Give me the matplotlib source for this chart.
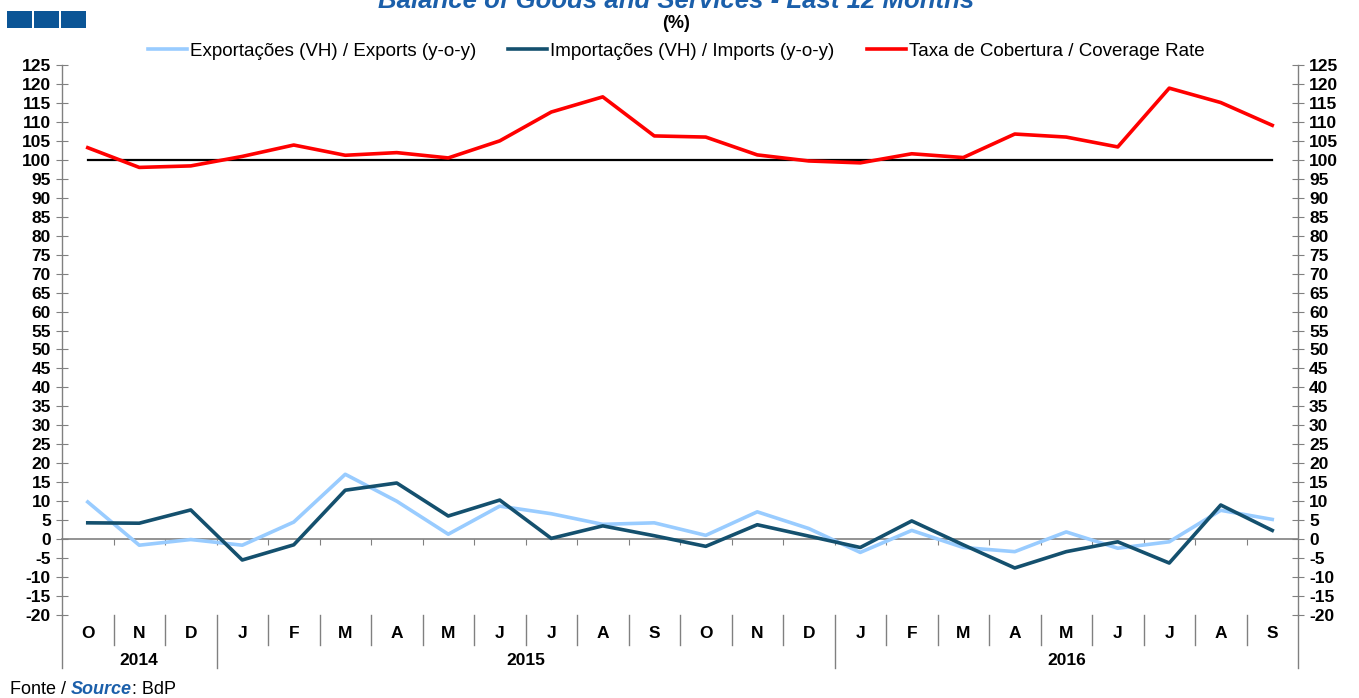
import matplotlib
matplotlib.use("Agg")
import matplotlib.pyplot as plt
from matplotlib.patches import Rectangle
import matplotlib.transforms as mtrans

months = ["O", "N", "D", "J", "F", "M", "A", "M", "J", "J", "A", "S",
          "O", "N", "D", "J", "F", "M", "A", "M", "J", "J", "A", "S"]
years = ["2014", "2015", "2016"]
year_centers = [1, 8.5, 19]
year_bounds = [2.5, 14.5]

exports = [9.8, -1.6, -0.1, -1.6, 4.5, 17.1, 10.0, 1.3, 8.7, 6.7, 3.9, 4.3,
           1.0, 7.2, 2.8, -3.5, 2.3, -2.2, -3.3, 1.9, -2.4, -0.7, 7.6, 5.2]
imports = [4.3, 4.2, 7.7, -5.5, -1.5, 12.9, 14.8, 6.1, 10.3, 0.2, 3.5, 0.9,
           -1.9, 3.8, 0.8, -2.2, 4.8, -1.5, -7.6, -3.3, -0.7, -6.3, 9.0, 2.3]
coverage = [103.2, 98.0, 98.4, 100.9, 103.9, 101.2, 101.9, 100.5, 105.0, 112.6, 116.6, 106.3,
            106.0, 101.3, 99.7, 99.2, 101.6, 100.6, 106.8, 106.0, 103.4, 118.9, 115.1, 109.1]
reference = [100] * 24

labels = ["Exportações (VH) / Exports (y-o-y)",
          "Importações (VH) / Imports (y-o-y)",
          "Taxa de Cobertura / Coverage Rate"]

plt.rcParams['font.family'] = ['Liberation Sans', 'DejaVu Sans']

W, H = 1359, 698
fig = plt.figure(figsize=(W / 100, H / 100), dpi=100)
ax = fig.add_axes([62 / W, 1 - 615 / H, (1298 - 62) / W, (615 - 65) / H])

x = list(range(len(months)))
c_exp, c_imp, c_cov = "#99CCFF", "#14506E", "#FF0000"
ax.plot(x, reference, color="black", lw=1.6, zorder=2)
l1, = ax.plot(x, exports, color=c_exp, lw=2.6, zorder=3, label=labels[0])
l2, = ax.plot(x, imports, color=c_imp, lw=2.6, zorder=4, label=labels[1])
l3, = ax.plot(x, coverage, color=c_cov, lw=2.6, zorder=5, label=labels[2])

ax.set_xlim(-0.5, 23.5)
ax.set_ylim(-20, 125)
ax.set_yticks(range(-20, 126, 5))
ax.set_yticklabels([str(v) for v in range(-20, 126, 5)])
ax.tick_params(axis='y', which='both', direction='inout', length=8, width=0.8,
               color="#808080", left=True, right=True, labelleft=True, labelright=True,
               labelsize=12.5, pad=4)
for t in ax.get_yticklabels():
    t.set_fontweight('bold')

ax.spines['top'].set_visible(False)
ax.spines['bottom'].set_position(('data', 0))
ax.spines['bottom'].set_color("#808080")
ax.spines['bottom'].set_linewidth(1.2)
for s in ['left', 'right']:
    ax.spines[s].set_color("#808080")
    ax.spines[s].set_linewidth(1.0)
ax.set_xticks([i + 0.5 for i in range(23)])
ax.set_xticklabels([])
ax.tick_params(axis='x', direction='out', length=4, width=0.8, color="#808080")

trans = mtrans.blended_transform_factory(ax.transData, ax.transAxes)
for i, m in enumerate(months):
    ax.text(i, -0.033, m, transform=trans, ha='center', va='center',
            fontsize=12.5, fontweight='bold')
for i in range(23):
    b = i + 0.5
    y0 = -0.096 if b in year_bounds else -0.055
    ax.plot([b, b], [0, y0], transform=trans, color="#808080", lw=1.0, clip_on=False)
for xb in [-0.5, 23.5]:
    ax.plot([xb, xb], [0, -0.096], transform=trans, color="#808080", lw=1.0, clip_on=False)
for yc, yl in zip(year_centers, years):
    ax.text(yc, -0.082, yl, transform=trans, ha='center', va='center',
            fontsize=12.5, fontweight='bold')

leg = fig.legend(handles=[l1, l2, l3], loc='center', bbox_to_anchor=(676 / W, 1 - 51 / H),
                 ncol=3, frameon=False, fontsize=13.5, handlelength=2.1, handletextpad=0.16,
                 columnspacing=1.7)

fig.text(676 / W, 1 - 8 / H, "Balance of Goods and Services - Last 12 Months",
         ha='center', va='baseline', fontsize=18.5, fontweight='bold', fontstyle='italic',
         color="#1B5FAA")
fig.text(676 / W, 1 - 23 / H, "(%)", ha='center', va='center', fontsize=13,
         fontweight='bold')

for x0 in [7, 34, 61]:
    fig.patches.append(Rectangle((x0 / W, 1 - 28 / H), 25 / W, 17 / H,
                                 transform=fig.transFigure, facecolor="#0B5596",
                                 edgecolor="none"))

fig.canvas.draw()
renderer = fig.canvas.get_renderer()
fs = 13
t1 = fig.text(10 / W, 1 - 690 / H, "Fonte / ", fontsize=fs, va='center', ha='left')
bb = t1.get_window_extent(renderer)
t2 = fig.text(bb.x1 / W, 1 - 690 / H, "Source", fontsize=fs, va='center', ha='left',
              fontweight='bold', fontstyle='italic', color="#1B5FAA")
bb2 = t2.get_window_extent(renderer)
fig.text(bb2.x1 / W, 1 - 690 / H, ": BdP", fontsize=fs, va='center', ha='left')

fig.savefig("out.png", dpi=100)
